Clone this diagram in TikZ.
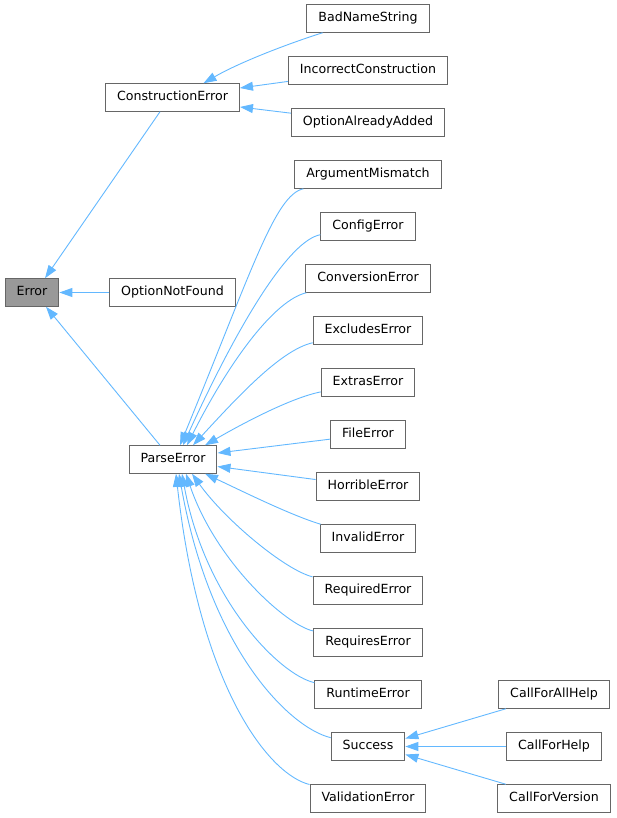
\documentclass[tikz,border=0pt]{standalone}
\usepackage{fontspec}
\setmainfont{DejaVu Sans}
\usetikzlibrary{arrows.meta,positioning,calc}
\definecolor{edgeblue}{HTML}{63B8FF}
\definecolor{boxgray}{HTML}{666666}
\definecolor{basefill}{HTML}{999999}

\begin{document}
\begin{tikzpicture}[x=1pt,y=-1pt,
	cls/.style={draw=boxgray, line width=1pt, fill=white, minimum height=27.5pt,
		inner xsep=11.5pt, inner ysep=0pt, text height=9.4pt, text depth=2.6pt,
		font=\fontsize{12.6}{15}\selectfont},
	base/.style={cls, fill=basefill},
	inh/.style={draw=edgeblue, line width=0.9pt,
		{Triangle[length=13pt,width=9pt,fill=edgeblue]}-}]
\useasboundingbox (0,0) rectangle (617,818);
\def\rowgap{52}

\node[base] (Error) at (32,292.5) {Error};
\node[cls] (OptionNotFound) at (172.5,292.5) {OptionNotFound};
\node[cls] (ConstructionError) at (172.5,97.5) {ConstructionError};
\node[cls] (ParseError) at (173,459.5) {ParseError};

% one column of leaf classes
\foreach \name [count=\i from 0] in {BadNameString,IncorrectConstruction,OptionAlreadyAdded,
	ArgumentMismatch,ConfigError,ConversionError,ExcludesError,ExtrasError,FileError,
	HorribleError,InvalidError,RequiredError,RequiresError,RuntimeError,Success,ValidationError}
{
	\node[cls] (\name) at (368,18.5+\rowgap*\i) {\name};
}

\foreach \name [count=\i from 0] in {CallForAllHelp,CallForHelp,CallForVersion}
{
	\node[cls] (\name) at (554,694.5+\rowgap*\i) {\name};
}

\draw[inh] ([xshift=13]Error.north) -- ([xshift=-12.5]ConstructionError.south);
\draw[inh] (Error) -- (OptionNotFound);
\draw[inh] ([xshift=14]Error.south) -- ([xshift=-13]ParseError.north);

\draw[inh] ([xshift=31]ConstructionError.north) .. controls (240,62) and (290,43) .. (BadNameString);
\draw[inh] ([yshift=9.5]ConstructionError.east) -- (IncorrectConstruction);
\draw[inh] ([yshift=-9.5]ConstructionError.east) -- (OptionAlreadyAdded);

\draw[inh] ([xshift=7]ParseError.north) .. controls (252,270) and (275,195) .. (ArgumentMismatch);
\draw[inh] ([xshift=10]ParseError.north) .. controls (240,320) and (290,240) .. (ConfigError);
\draw[inh] ([xshift=14]ParseError.north) .. controls (230,360) and (275,300) .. (ConversionError);
\draw[inh] ([xshift=20]ParseError.north) .. controls (235,400) and (280,350) .. (ExcludesError);
\draw[inh] ([xshift=32]ParseError.north) .. controls (240,425) and (290,398) .. (ExtrasError);
\draw[inh] ([yshift=6.5]ParseError.east) -- (FileError);
\draw[inh] ([yshift=-7]ParseError.east) -- (HorribleError);
\draw[inh] ([xshift=32]ParseError.south) .. controls (240,490) and (290,515) .. (InvalidError);
\draw[inh] ([xshift=19]ParseError.south) .. controls (225,520) and (285,570) .. (RequiredError);
\draw[inh] ([xshift=13]ParseError.south) .. controls (215,560) and (285,625) .. (RequiresError);
\draw[inh] ([xshift=9]ParseError.south) .. controls (205,600) and (280,675) .. (RuntimeError);
\draw[inh] ([xshift=6]ParseError.south) .. controls (210,650) and (290,728) .. (Success);
\draw[inh] ([xshift=3]ParseError.south) .. controls (200,690) and (270,775) .. (ValidationError);

\draw[inh] ([yshift=8]Success.east) -- (CallForAllHelp);
\draw[inh] (Success) -- (CallForHelp);
\draw[inh] ([yshift=-8]Success.east) -- (CallForVersion);

\end{tikzpicture}
\end{document}
